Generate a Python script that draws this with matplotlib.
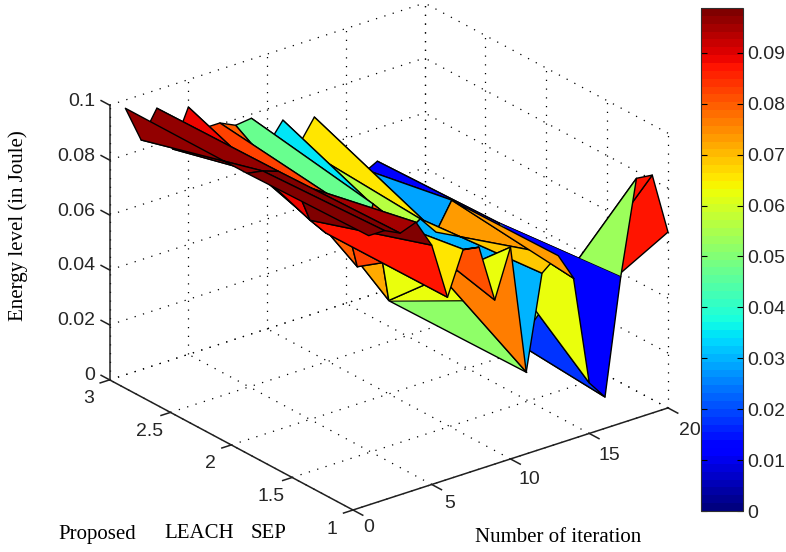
#!/usr/bin/python3
import matplotlib
matplotlib.use('Agg')
import matplotlib.pyplot as plt
import numpy as np
from matplotlib import cm
from matplotlib.colors import Normalize
from mpl_toolkits.mplot3d import proj3d
from mpl_toolkits.mplot3d.art3d import Poly3DCollection

# Energy values, one row per protocol (y = 1, 2, 3)
iterations = list(range(1, 21))
row_y1 = [.098, .098, .0952, .0973, .0871, .0663, .0819, .0808, .0597, .0771,
          .0298, .0639, .0686, .0584, .0184, .0114, .0533, .0873, .0866, .064]
row_y2 = [.097, .096, .094, .088, .0725, .066, .075, .05, .071, .034,
          .056, .06, .0533, .0631, .0544, .015, .0492, .002, .002, .002]
row_y3 = [.097, .0836, .0933, .0766, .09, .0805, .0805, .0778, .0785, .0665,
          .0741, .063, .0715, .055, .05, .045, .048, .03, .02, .01]
y_levels = [1, 2, 3]

# Flat colour of each cell (the picture does not always follow the corner height)
level_y1 = [.098, .098, .0952, .0973, .0871, .0663, .0819, .0808, .062, .0771,
            .0298, .068, .073, .062, .0184, .0114, .0533, .0873, .0866, .064]
level_y2 = [.097, .097, .095, .088, .07, .083, .08, .047, .072, .034,
            .056, .066, .028, .063, .02, .012, .012, .002, .002, .002]
level_y3 = row_y3
green_fold_level = .052
yellow_fold_level = .062
orange_fold_level = .073
blue_fold_level = .0114

x_ticks = [0, 5, 10, 15, 20]
y_ticks = [1, 1.5, 2, 2.5, 3]
z_ticks = [0, .02, .04, .06, .08, .1]
cbar_ticks = [0, .01, .02, .03, .04, .05, .06, .07, .08, .09]
z_max_color = .0988

W, H = 786, 552
fig = plt.figure(figsize=(W / 100, H / 100), dpi=100)
plt.rcParams['font.family'] = ['Liberation Sans', 'DejaVu Sans']


def frac(px, py):
    return px / W, 1 - py / H


ax = fig.add_axes([.1, .0, .75, 1.0], projection='3d', computed_zorder=False)
ax.set_proj_type('ortho')
ax.view_init(elev=24.6, azim=-127.9)
ax.set_box_aspect((399, 396, 302))
ax.set_xlim(0, 20)
ax.set_ylim(1, 3)
ax.set_zlim(0, .1)
ax.set_axis_off()


def to_px(x, y, z):
    X, Y, _ = proj3d.proj_transform(x, y, z, ax.get_proj())
    p = ax.transData.transform((X, Y))
    return p[0], H - p[1]


# Fit the box so the front corners land where they are in the reference
fig.canvas.draw()
a, b = to_px(0, 1, 0), to_px(20, 1, 0)
pos = ax.get_position()
s = 315 / (b[0] - a[0])
ax.set_position([pos.x0, pos.y0, pos.width * s, pos.height * s])
fig.canvas.draw()
a = to_px(0, 1, 0)
pos = ax.get_position()
ax.set_position([pos.x0 + (353 - a[0]) / W, pos.y0 + (a[1] - 510) / H, pos.width, pos.height])
fig.canvas.draw()

# dotted grid on the floor and the two back walls
grid = dict(color='k', lw=.9, ls=(0, (1, 6)), zorder=1)
for x in x_ticks:
    ax.plot([x, x], [1, 3], [0, 0], **grid)
    ax.plot([x, x], [3, 3], [0, .1], **grid)
for y in y_ticks:
    ax.plot([0, 20], [y, y], [0, 0], **grid)
    ax.plot([20, 20], [y, y], [0, .1], **grid)
for z in z_ticks:
    ax.plot([0, 20], [3, 3], [z, z], **grid)
    ax.plot([20, 20], [1, 3], [z, z], **grid)

# surface, flat colours per cell
X, Y = np.meshgrid(iterations, y_levels)
Z = np.array([row_y1, row_y2, row_y3])
norm = Normalize(0, z_max_color)
jet64 = matplotlib.colormaps['jet'].resampled(64)
colors = jet64(norm(np.array([level_y1, level_y2, level_y3])))


def vert(i, row):
    # i is the iteration number, row 0/1/2 is y = 1/2/3
    return iterations[i - 1], y_levels[row], Z[row, i - 1]


# non planar cells fold over in the picture, the folds need their own patches
ax.add_collection3d(Poly3DCollection([[vert(10, 1), vert(11, 0), vert(9, 0)]],
                                     facecolors=jet64(norm(green_fold_level)),
                                     edgecolors='k', linewidths=1.0, zorder=1.5))
ax.add_collection3d(Poly3DCollection([[vert(10, 1), vert(9, 0), vert(10, 0)]],
                                     facecolors=jet64(norm(yellow_fold_level)),
                                     edgecolors='none', zorder=1.6))

surf = ax.plot_surface(X, Y, Z, rstride=1, cstride=1, facecolors=colors, shade=False,
                       antialiased=True, zorder=2)
surf.set_edgecolor('k')
surf.set_linewidth(1.0)

ax.add_collection3d(Poly3DCollection([[vert(17, 1), vert(17, 0), vert(14, 0)]],
                                     facecolors=jet64(norm(blue_fold_level)),
                                     edgecolors='none', zorder=2.4))
ax.add_collection3d(Poly3DCollection([[vert(14, 1), vert(13, 0), vert(14, 0)]],
                                     facecolors=jet64(norm(orange_fold_level)),
                                     edgecolors='k', linewidths=1.0, zorder=2.5))

# front axis lines and ticks
axis = dict(color='#202020', lw=1.1, zorder=3)
ax.plot([0, 20], [1, 1], [0, 0], **axis)
ax.plot([0, 0], [1, 3], [0, 0], **axis)
ax.plot([0, 0], [3, 3], [0, .1], **axis)
for x in x_ticks:
    ax.plot([x, x], [1, .92], [0, 0], **axis)
for y in y_ticks:
    ax.plot([0, -.6], [y, y], [0, 0], **axis)
for z in z_ticks:
    ax.plot([0, 0], [3, 3.07], [z, z], **axis)

fig.canvas.draw()
tick_font = dict(fontsize=14, color='#262626', ha='center', va='center')
for x in x_ticks:
    p = to_px(x, 1, 0)
    fig.text(*frac(p[0] + 16 + .3 * x, p[1] + 18 + .25 * x), str(x), **tick_font)
for y in y_ticks:
    p = to_px(0, y, 0)
    fig.text(*frac(p[0] - 21, p[1] + 19), '%g' % y, **tick_font)
for z in z_ticks:
    p = to_px(0, 3, z)
    fig.text(*frac(p[0] - 14, p[1] - 4), '%g' % z, fontsize=14, color='#262626', ha='right', va='center')

serif = dict(family='Liberation Serif', fontsize=15, color='k', va='center')
fig.text(*frac(18, 226), 'Energy level (in Joule)', rotation=90, ha='center', **serif)
fig.text(*frac(558, 537), 'Number of iteration', ha='center', **serif)
fig.text(*frac(58, 534), 'Proposed', ha='left', **serif)
fig.text(*frac(164, 534), 'LEACH', ha='left', **serif)
fig.text(*frac(251, 534), 'SEP', ha='left', **serif)

# colour bar
cax = fig.add_axes([701 / W, 1 - 511 / H, 42 / W, 503 / H])
cb = fig.colorbar(cm.ScalarMappable(norm=norm, cmap=jet64), cax=cax, ticks=cbar_ticks)
cb.ax.set_yticklabels(['%g' % t for t in cbar_ticks], fontsize=14, color='#262626')
cb.ax.tick_params(direction='in', left=True, right=True, length=4, width=.8, pad=3)
cb.outline.set_edgecolor('#303030')
cb.outline.set_linewidth(.8)

fig.savefig('out.png', dpi=100)
